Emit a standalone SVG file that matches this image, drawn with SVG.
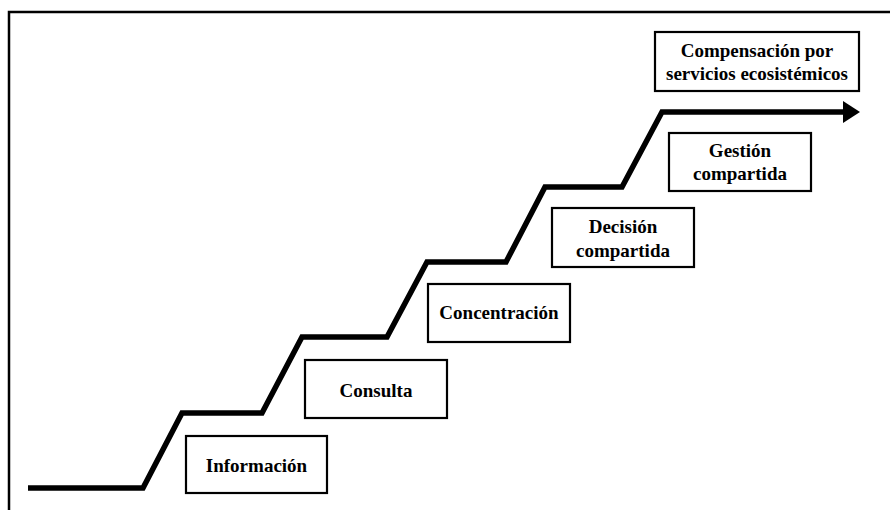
<svg xmlns="http://www.w3.org/2000/svg" width="890" height="510" viewBox="0 0 890 510">
<style>
.box{fill:#fff;stroke:#000;stroke-width:2.2}
.t{font-family:'Liberation Serif','Times New Roman',serif;font-weight:bold;font-size:19px;fill:#000;text-anchor:middle}
.stair{fill:none;stroke:#000;stroke-width:5.5;stroke-linejoin:miter}
</style>
<defs>
<marker id="ah" markerUnits="userSpaceOnUse" markerWidth="18" markerHeight="22" refX="2" refY="11" orient="auto">
<path d="M0,0 L17,11 L0,22 Z" fill="#000"/>
</marker>
</defs>
<rect width="890" height="510" fill="#fff"/>
<path d="M9,510 V12 H890" fill="none" stroke="#000" stroke-width="2.5"/>
<g id="connectors">
<path class="stair" d="M28,488 H143 L182,413 H262 L302,337 H387 L427,262 H506 L545,187 H622 L662,112 H845" marker-end="url(#ah)"/>
</g>
<g id="informacion">
<rect class="box" x="186" y="436" width="141" height="57"/>
<text class="t" x="256.5" y="472">Información</text>
</g>
<g id="consulta">
<rect class="box" x="305" y="360" width="142" height="58"/>
<text class="t" x="376" y="397">Consulta</text>
</g>
<g id="concentracion">
<rect class="box" x="428" y="284" width="142" height="58"/>
<text class="t" x="499" y="319">Concentración</text>
</g>
<g id="decision">
<rect class="box" x="552" y="208" width="142" height="59"/>
<text class="t" x="623" y="233">Decisión</text>
<text class="t" x="623" y="257">compartida</text>
</g>
<g id="gestion">
<rect class="box" x="669" y="133" width="142" height="58"/>
<text class="t" x="740" y="157">Gestión</text>
<text class="t" x="740" y="180">compartida</text>
</g>
<g id="compensacion">
<rect class="box" x="655" y="32" width="204" height="59"/>
<text class="t" x="757" y="57">Compensación por</text>
<text class="t" x="757" y="80">servicios ecosistémicos</text>
</g>
</svg>
